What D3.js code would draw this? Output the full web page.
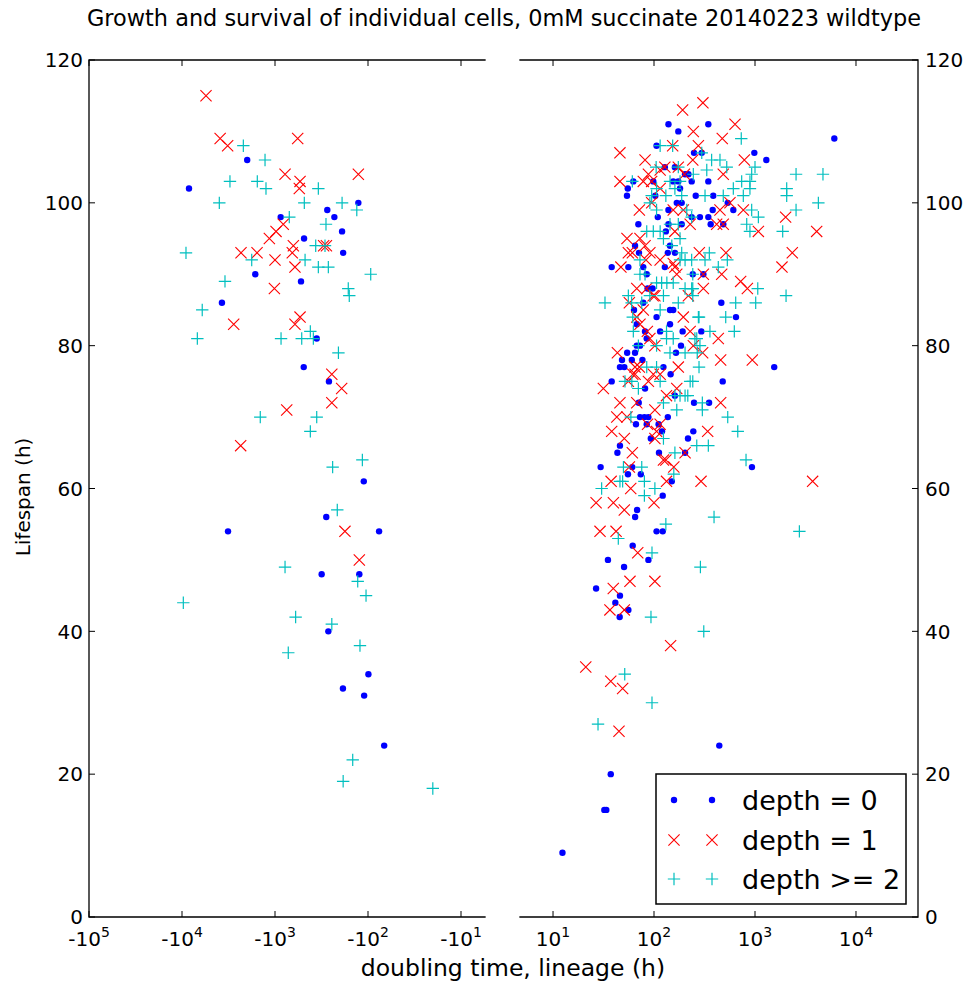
<!DOCTYPE html>
<html>
<head>
<meta charset="utf-8">
<script src="https://cdn.jsdelivr.net/npm/d3@7"></script>
<style>
  body { margin: 0; background: #fff; }
  svg { display: block; }
  text { font-family: "DejaVu Sans", sans-serif; fill: #000; }
</style>
</head>
<body>
<svg id="chart" width="971" height="983"></svg>
<script>
// Lifespan axis ticks and decade ticks of the two doubling-time panels
const lifespanTicks = [0, 20, 40, 60, 80, 100, 120];
const negativeDecades = [5, 4, 3, 2, 1];   // labels -10^n
const positiveDecades = [1, 2, 3, 4];      // labels 10^n
const seriesNames = ["depth = 0", "depth = 1", "depth >= 2"];

// [doubling time of lineage (h), lifespan (h)] per cell, by lineage depth
const depth0 = [
  [-1990,106],[-8410,102],[-127,100],[-274,99],[-869,98],[-230,98],[-190,96],[-487,95],
  [-185,93],[-1630,90],[-525,89],[-3720,86],[-356,81],[-491,77],[-263,75],[-111,61],
  [-281,56],[-3200,54],[-76,54],[-315,48],[-124,48],[-267,40],[-99,34],[-186,32],
  [-110,31],[-67,24],
  [139,111],[345,111],[174,110],[6100,109],[106,108],[249,107],[297,107],[985,107],
  [1295,106],[128,105],[161,105],[203,104],[219,104],[62.4,103],[98.4,103],[155,103],
  [174,103],[236,103],[345,103],[55,102],[181,102],[54,101],[103,101],[259,101],
  [386,101],[168,100],[188,100],[537,100],[139,99],[381,99],[610,99],[109,98],
  [236,98],[285,98],[345,98],[70,97],[139,97],[188,97],[364,97],[485,97],[131,96],
  [64.9,94],[144,94],[71,93],[161,93],[137,93],[38.1,91],[55.7,91],[78.3,91],
  [128,91],[84.7,90],[242,90],[308,90],[86.3,88],[96.8,88],[464,86],[78.3,86],
  [63.4,85],[144,85],[155,85],[106,84],[648,84],[144,83],[67.5,83],[115,82],
  [81.5,82],[192,82],[294,82],[84.7,81],[67.5,80],[72.6,80],[185,80],[54.2,79],
  [64.9,79],[165,79],[48.2,78],[60.3,78],[76.8,78],[46,77],[50.8,77],[124,77],
  [1550,77],[146,76],[38.1,75],[479,75],[81.5,74],[161,73],[70.6,72],[249,72],
  [351,72],[72.6,70],[80.3,70],[88,70],[137,70],[66.3,69],[84.7,69],[111,69],
  [120,68],[245,68],[93,67],[217,67],[46,66],[43.4,65],[112,65],[203,65],
  [29.6,63],[60.9,63],[933,63],[55.2,62],[74,62],[150,61],[122,59],[68,57],
  [65,56],[106,54],[122,54],[61.5,52],[35,50],[88,50],[50.5,49],[26.7,46],
  [46,45],[41.4,44],[55.7,43],[45.7,42],[443,24],[37.3,20],[32.2,15],[33.7,15],
  [12.4,9]
];

const depth1 = [
  [-5520,115],[-3890,109],[-3230,108],[-570,109],[-780,104],[-538,103],[-548,102],
  [-127,104],[-815,97],[-975,96],[-1150,95],[-635,94],[-300,94],[-280,94],
  [-2320,93],[-1560,93],[-652,93],[-1000,92],[-610,91],[-1015,88],[-2780,83],
  [-538,84],[-610,83],[-245,76],[-192,74],[-245,72],[-748,71],[-2340,66],
  [-177,54],[-124,50],
  [305,114],[192,113],[634,111],[245,110],[474,109],[275,108],[46,107],[153,108],
  [81.5,106],[242,106],[784,106],[128,105],[174,105],[88,104],[115,104.6],[200,104],
  [485,104],[46,103],[78.3,103],[94.8,103],[115,102],[565,100],[94.8,100],[71.6,99],
  [155,99],[195,99],[450,99],[766,99],[2010,98],[417,97],[485,97],[228,97],
  [161,96],[1080,96],[4080,96],[54,95],[72.6,95],[81.5,94],[91,93],[61,93],
  [55.7,93],[281,93],[516,93],[2340,93],[83.3,92],[115,92],[47,91],[155,91.5],
  [161,91],[1850,91],[168,90],[308,90],[468,90],[721,89],[67.5,88],[84.7,88],
  [308,88],[840,88],[102,87],[98,87],[219,87],[57,86],[78.3,85],[67.5,84],
  [195,84],[72.6,83],[85.9,82],[228,82],[91,81],[433,81],[102,80],[245,80],
  [43.4,79],[303,79],[457,78],[940,78],[64.9,77],[71.6,77],[174,77],[61.6,76],
  [64.9,76],[98.4,76],[115,76],[55.7,75],[88,75],[31.5,74],[168,74],[133,73],
  [46,72],[67.5,72],[457,72],[102,71],[42.8,70],[54,70],[115,69],[86.3,69],
  [106,68],[38.1,68],[340,68],[102,67],[50.8,67],[61,65],[203,65],[124,64],
  [131,64],[157,63],[57,63],[37.6,61],[133,61],[292,61],[3720,61],[58.8,60],
  [26.7,58],[39.6,58],[100,58],[50.8,57],[29.2,54],[42.1,54],[69,51],[57.8,47],
  [102,47],[39.5,46],[36.6,43],[50.8,43],[146,38],[21.1,35],[37.3,33],[48.9,32],
  [45,26]
];

const depth2 = [
  [-2190,108],[-1280,106],[-3050,103],[-1550,103],[-1250,102],[-342,102],[-3970,100],
  [-484,100],[-190,100],[-132,99],[-702,98],[-283,97],[-365,94],[-290,94],
  [-9060,93],[-1780,92],[-475,92],[-342,91],[-267,91],[-93.5,90],[-3450,89],
  [-163,88],[-159,87],[-6060,85],[-6840,81],[-861,81],[-417,82],[-516,81],
  [-387,81],[-208,79],[-1440,70],[-356,70],[-417,68],[-115,64],[-240,63],
  [-214,57],[-780,49],[-129,47],[-105,45],[-9680,44],[-600,42],[-245,41],
  [-122,38],[-720,37],[-146,22],[-185,19],[-20.1,18],
  [731,109],[115,108],[153,108],[297,107],[372,106],[450,106],[525,105],[1000,105],
  [105,105],[174,105],[245,104],[333,104.6],[927,104],[2550,104],[4710,104],
  [738,103],[891,103],[61,103],[144,103],[181,103],[610,102],[891,102],[2060,102],
  [106,102],[161,102],[2060,101],[320,101],[485,101],[766,101],[94.8,101],[131,101],
  [188,101],[4240,100],[91,100],[2550,99],[927,99],[106,99],[211,99],[1080,98],
  [236,98],[828,97],[144,97],[174,97],[891,96],[1880,96],[84.7,96],[98.4,96],
  [115,96],[124,95],[181,95],[150,94],[188,93],[353,93],[320,92],[532,92],
  [72.6,92],[181,92],[203,92],[236,92],[433,91],[242,90],[72.6,90],[81.5,90],
  [106,88.8],[119,88.8],[134,88.8],[155,88.8],[242,88],[1065,88],[242,87],[203,88],
  [236,88],[2030,87],[55.7,87],[91,87],[124,87],[32.7,86],[60,86],[75.6,86],
  [174,86],[644,86],[1016,86],[115,85],[61.6,84],[275,84],[279,84],[513,84],
  [62.4,82],[133,82],[358,82],[624,82],[133,81],[155,81],[254,81],[265,81],
  [70,80],[106,80],[285,80],[144,79],[203,79],[268,79],[84.7,77],[106,77],
  [279,77],[51.6,75],[60.3,75],[115,75],[228,75],[242,75],[70,74],[203,73],
  [161,73],[181,73],[216,73],[124,72],[301,72],[301,71],[168,71],[537,70],
  [59,70],[124,67],[675,68],[265,66],[345,66],[161,65],[815,64],[49.8,63],
  [75.6,63],[157,62],[46,61],[48.9,61],[80.3,61],[30.3,60],[102,60],[80.3,59],
  [131,55],[44.3,53],[2750,54],[393,56],[95.5,51],[288,49],[93.3,42],[311,40],
  [51.3,34],[95.5,30],[27.9,27]
];

const svg = d3.select("#chart");

// Panel geometry
const plotTop = 60, plotBottom = 917;
const leftPanel = { x0: 89, x1: 485 };
const rightPanel = { x0: 520, x1: 918 };

const y = d3.scaleLinear().domain([0, 120]).range([plotBottom, plotTop]);
const xNeg = d3.scaleLog()
  .domain([-1e5, -Math.pow(10, 0.742)])
  .range([leftPanel.x0, leftPanel.x1]);
const xPos = d3.scaleLog()
  .domain([Math.pow(10, 0.673), Math.pow(10, 4.614)])
  .range([rightPanel.x0, rightPanel.x1]);

// Clip regions so markers stay inside each panel
const defs = svg.append("defs");
defs.append("clipPath").attr("id", "clipL").append("rect")
  .attr("x", leftPanel.x0).attr("y", plotTop)
  .attr("width", leftPanel.x1 - leftPanel.x0).attr("height", plotBottom - plotTop);
defs.append("clipPath").attr("id", "clipR").append("rect")
  .attr("x", rightPanel.x0).attr("y", plotTop)
  .attr("width", rightPanel.x1 - rightPanel.x0).attr("height", plotBottom - plotTop);

// Marker drawing
const styles = [
  { color: "#0000ff", shape: "dot" },
  { color: "#ff0000", shape: "x" },
  { color: "#00bfbf", shape: "plus" }
];
function drawMarker(g, shape, color, cx, cy) {
  if (shape === "dot") {
    g.append("circle").attr("cx", cx).attr("cy", cy).attr("r", 3.2).attr("fill", color);
  } else if (shape === "x") {
    const s = 5.6;
    g.append("path")
      .attr("d", `M${cx - s},${cy - s}L${cx + s},${cy + s}M${cx - s},${cy + s}L${cx + s},${cy - s}`)
      .attr("stroke", color).attr("stroke-width", 1.1).attr("fill", "none");
  } else {
    const s = 6.2;
    g.append("path")
      .attr("d", `M${cx - s},${cy}L${cx + s},${cy}M${cx},${cy - s}L${cx},${cy + s}`)
      .attr("stroke", color).attr("stroke-width", 1.2).attr("fill", "none");
  }
}

const gL = svg.append("g").attr("clip-path", "url(#clipL)");
const gR = svg.append("g").attr("clip-path", "url(#clipR)");
[depth0, depth1, depth2].forEach((series, i) => {
  const st = styles[i];
  series.forEach(([t, life]) => {
    if (t < 0) drawMarker(gL, st.shape, st.color, xNeg(t), y(life));
    else drawMarker(gR, st.shape, st.color, xPos(t), y(life));
  });
});

// Spines
const spine = svg.append("g").attr("stroke", "#000").attr("stroke-width", 1.3)
  .attr("fill", "none").attr("stroke-linecap", "square");
spine.append("path").attr("d",
  `M${leftPanel.x1},${plotTop}H${leftPanel.x0}V${plotBottom}H${leftPanel.x1}`);
spine.append("path").attr("d",
  `M${rightPanel.x0},${plotTop}H${rightPanel.x1}V${plotBottom}H${rightPanel.x0}`);

// Ticks
const tickLen = 6;
const ticks = svg.append("g").attr("stroke", "#000").attr("stroke-width", 1);
lifespanTicks.forEach(v => {
  ticks.append("line").attr("x1", leftPanel.x0).attr("x2", leftPanel.x0 + tickLen)
    .attr("y1", y(v)).attr("y2", y(v));
  ticks.append("line").attr("x1", rightPanel.x1).attr("x2", rightPanel.x1 - tickLen)
    .attr("y1", y(v)).attr("y2", y(v));
});
const xTickPositions = negativeDecades.map(n => xNeg(-Math.pow(10, n)))
  .concat(positiveDecades.map(n => xPos(Math.pow(10, n))));
xTickPositions.forEach(px => {
  ticks.append("line").attr("x1", px).attr("x2", px).attr("y1", plotBottom).attr("y2", plotBottom - tickLen);
  ticks.append("line").attr("x1", px).attr("x2", px).attr("y1", plotTop).attr("y2", plotTop + tickLen);
});

// Tick labels
const fs = 20;
lifespanTicks.forEach(v => {
  svg.append("text").attr("x", 83).attr("y", y(v)).attr("dy", "0.36em")
    .attr("text-anchor", "end").attr("font-size", fs).text(v);
  svg.append("text").attr("x", 925).attr("y", y(v)).attr("dy", "0.36em")
    .attr("text-anchor", "start").attr("font-size", fs).text(v);
});
function decadeLabel(px, base, exp) {
  const t = svg.append("text").attr("x", px).attr("y", 946)
    .attr("text-anchor", "middle").attr("font-size", fs);
  t.append("tspan").text(base);
  t.append("tspan").attr("dy", -9).attr("font-size", 14).text(exp);
}
negativeDecades.forEach(n => decadeLabel(xNeg(-Math.pow(10, n)), "-10", n));
positiveDecades.forEach(n => decadeLabel(xPos(Math.pow(10, n)), "10", n));

// Title and axis labels
svg.append("text").attr("x", 504).attr("y", 26).attr("text-anchor", "middle")
  .attr("font-size", 22.4).text("Growth and survival of individual cells, 0mM succinate 20140223 wildtype");
svg.append("text").attr("x", 513).attr("y", 976).attr("text-anchor", "middle")
  .attr("font-size", 23.5).text("doubling time, lineage (h)");
svg.append("text").attr("transform", "translate(30,497) rotate(-90)")
  .attr("text-anchor", "middle").attr("font-size", fs).text("Lifespan (h)");

// Legend
const lg = svg.append("g");
lg.append("rect").attr("x", 656).attr("y", 774).attr("width", 250).attr("height", 130)
  .attr("fill", "#fff").attr("stroke", "#000").attr("stroke-width", 1.5);
const rowY = [800, 840, 879];
seriesNames.forEach((name, i) => {
  drawMarker(lg, styles[i].shape, styles[i].color, 674, rowY[i]);
  drawMarker(lg, styles[i].shape, styles[i].color, 712, rowY[i]);
  lg.append("text").attr("x", 742).attr("y", rowY[i]).attr("dy", "0.36em")
    .attr("font-size", 27).text(name);
});
</script>
</body>
</html>
